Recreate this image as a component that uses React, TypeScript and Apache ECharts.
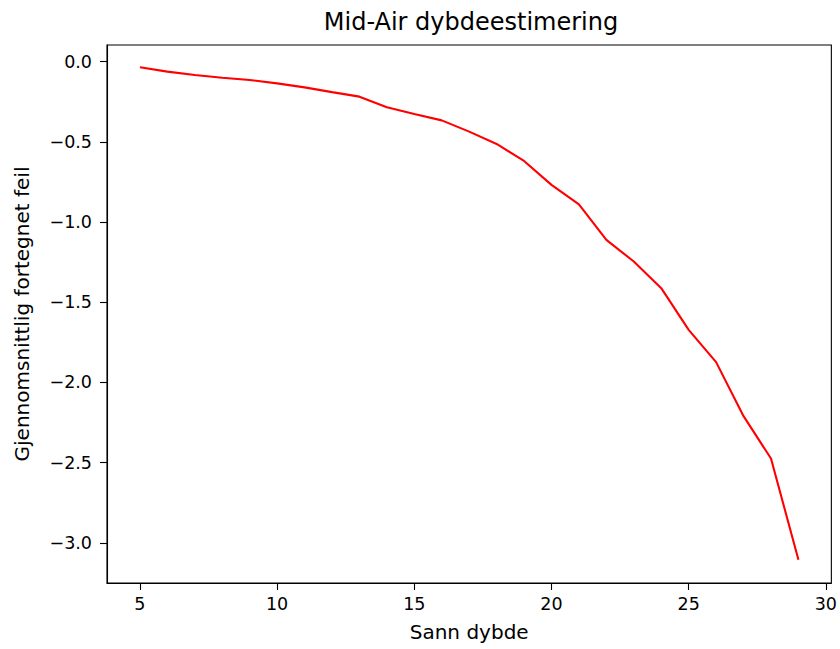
import React, { useEffect, useRef } from "react";
import * as echarts from "echarts";

const depths = [5, 6, 7, 8, 9, 10, 11, 12, 13, 14, 15, 16, 17, 18, 19, 20, 21, 22, 23, 24, 25, 26, 27, 28, 29];
const meanSignedError = [
  -0.035, -0.062, -0.083, -0.1, -0.114, -0.135, -0.16, -0.19, -0.218, -0.284, -0.326, -0.366,
  -0.436, -0.513, -0.619, -0.768, -0.889, -1.111, -1.246, -1.412, -1.672, -1.873, -2.21, -2.474, -3.105,
];
const xTicks = [5, 10, 15, 20, 25, 30];
const yTicks = [0, -0.5, -1.0, -1.5, -2.0, -2.5, -3.0];

const FONT = "DejaVu Sans";
const TICK_FONT = 17.5;
const NAME_FONT = 20;

export default function App() {
  const ref = useRef<HTMLDivElement>(null);
  useEffect(() => {
    if (!ref.current) return;
    const chart = echarts.init(ref.current, null, { renderer: "svg" });
    chart.setOption({
      animation: false,
      backgroundColor: "#ffffff",
      title: {
        text: "Mid-Air dybdeestimering",
        left: 466,
        top: 5,
        textAlign: "center",
        textStyle: { fontFamily: FONT, fontSize: 24, fontWeight: "normal", color: "#000" },
      },
      grid: {
        left: 107,
        right: 8,
        top: 45,
        bottom: 66,
        show: true,
        borderColor: "#000",
        borderWidth: 1.1,
        backgroundColor: "transparent",
      },
      xAxis: {
        type: "value",
        min: 3.8,
        max: 30.2,
        name: "Sann dybde",
        nameLocation: "middle",
        nameGap: 39,
        nameTextStyle: { fontFamily: FONT, fontSize: NAME_FONT, color: "#000" },
        axisLine: { show: true, onZero: false, lineStyle: { color: "#000", width: 1.1 } },
        splitLine: { show: false },
        axisTick: {
          show: true,
          length: 7,
          inside: false,
          customValues: xTicks,
          lineStyle: { color: "#000", width: 1.1 },
        },
        axisLabel: {
          customValues: xTicks,
          margin: 12,
          fontFamily: FONT,
          fontSize: TICK_FONT,
          color: "#000",
          formatter: (v: number) => String(v),
        },
      },
      yAxis: {
        type: "value",
        min: -3.25,
        max: 0.104,
        name: "Gjennomsnittlig fortegnet feil",
        nameLocation: "middle",
        nameGap: 75,
        nameTextStyle: { fontFamily: FONT, fontSize: NAME_FONT, color: "#000" },
        axisLine: { show: true, onZero: false, lineStyle: { color: "#000", width: 1.1 } },
        splitLine: { show: false },
        axisTick: {
          show: true,
          length: 7,
          inside: false,
          customValues: yTicks,
          lineStyle: { color: "#000", width: 1.1 },
        },
        axisLabel: {
          customValues: yTicks,
          margin: 15,
          fontFamily: FONT,
          fontSize: TICK_FONT,
          color: "#000",
          formatter: (v: number) => (v < 0 ? "\u2212" + Math.abs(v).toFixed(1) : v.toFixed(1)),
        },
      },
      series: [
        {
          type: "line",
          data: depths.map((d, i) => [d, meanSignedError[i]]),
          showSymbol: false,
          symbol: "none",
          lineStyle: { color: "#ff0000", width: 2.1 },
          clip: false,
        },
      ],
    });
    return () => chart.dispose();
  }, []);
  return (
    <div
      ref={ref}
      style={{ position: "fixed", left: 0, top: 0, width: 840, height: 649 }}
    />
  );
}
